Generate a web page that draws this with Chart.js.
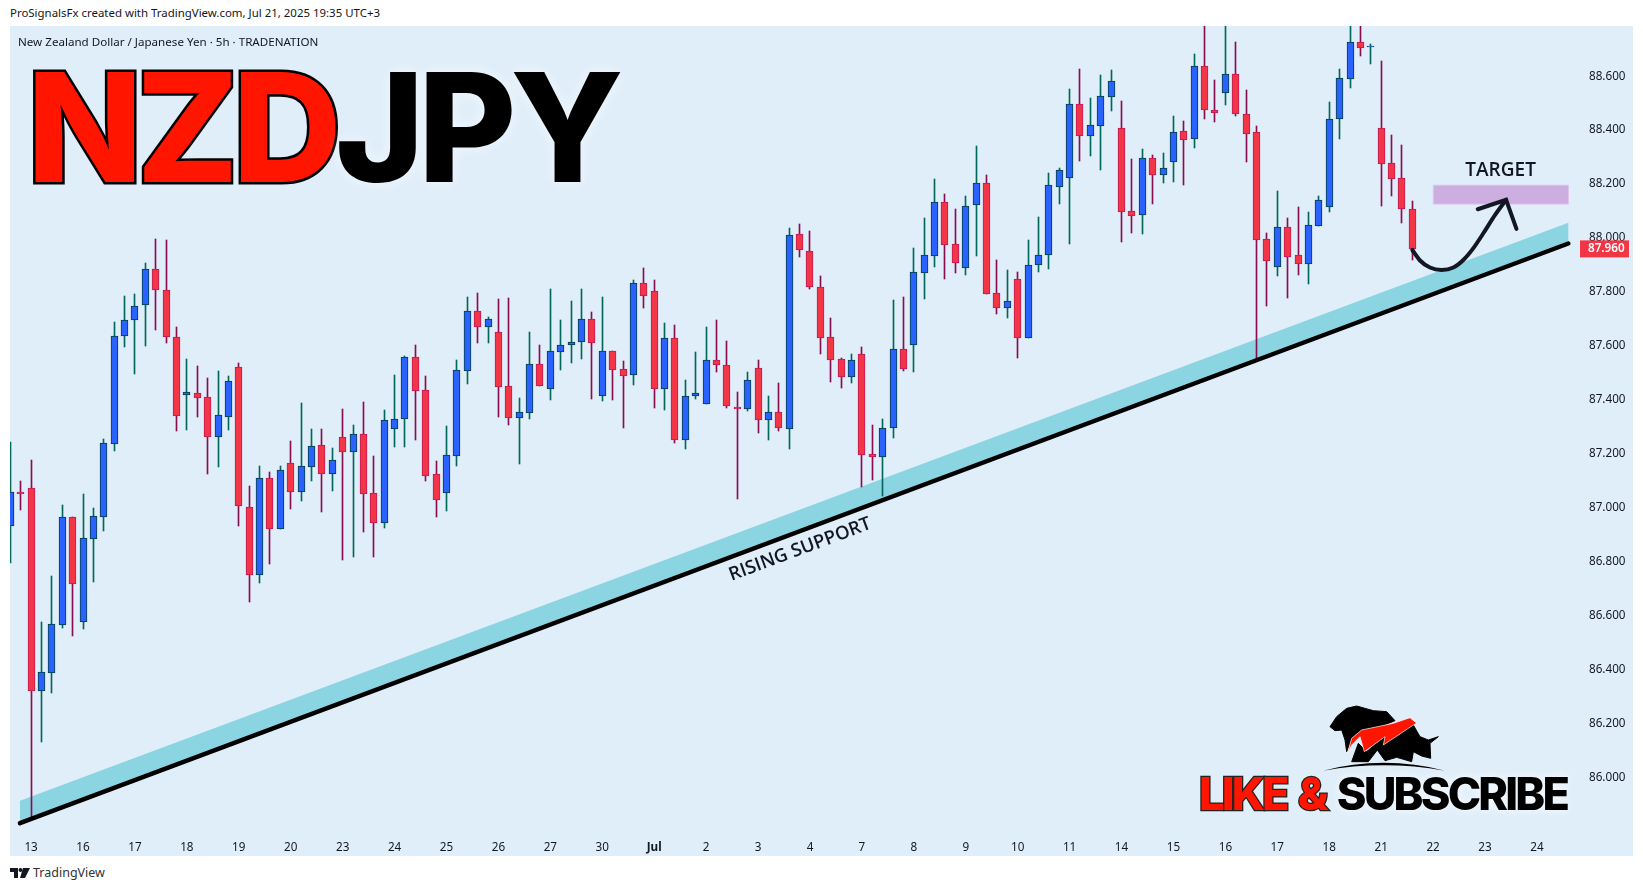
<!DOCTYPE html>
<html>
<head>
<meta charset="utf-8">
<title>NZDJPY</title>
<script src="https://cdn.jsdelivr.net/npm/chart.js@4/dist/chart.umd.min.js"></script>
<style>
    html, body { margin: 0; padding: 0; background: #fff; width: 1643px; height: 891px; overflow: hidden; }
    body { position: relative; font-family: "Noto Sans", sans-serif; color: #131722; }
    #wrap { position: absolute; left: 10px; top: 26px; width: 1623px; height: 830px; background: #e0eefa; }
    .txt { position: absolute; white-space: nowrap; }
    #header { left: 10px; top: 5px; font-size: 11.45px; line-height: 16px; }
    #subtitle { left: 18px; top: 34px; font-size: 11.6px; line-height: 16px; }
    #brand { left: 33px; top: 864px; font-size: 12.5px; line-height: 18px; color: #333; }
    #pair { left: 27px; top: 47px; font: 800 151px/160px Inter, Roboto, sans-serif; letter-spacing: -6.3px;
        color: #000; text-shadow: 0 0 14px rgba(255,255,255,.6); }
    #pair span { color: #ff1500; -webkit-text-stroke: 5px #000; paint-order: stroke fill; text-shadow: none; }
    #like { left: 1199px; top: 766px; font: 800 45px/56px Inter, Roboto, sans-serif; letter-spacing: -2.8px; word-spacing: 4px;
        color: #000; text-shadow: 0 0 10px rgba(255,255,255,.8); }
    #like span { color: #ff1500; -webkit-text-stroke: 2.5px #222; paint-order: stroke fill; text-shadow: none; }
    #logo { position: absolute; left: 1180px; top: 680px; width: 463px; height: 211px; }
    #tvlogo { position: absolute; left: 10px; top: 868px; width: 20px; height: 10px; }
</style>
</head>
<body>
<div class="txt" id="header">ProSignalsFx created with TradingView.com, Jul 21, 2025 19:35 UTC+3</div>
<div id="wrap"><canvas id="priceChart" width="1623" height="830"></canvas></div>
<div class="txt" id="subtitle">New Zealand Dollar / Japanese Yen · 5h · TRADENATION</div>
<div class="txt" id="pair"><span>NZD</span>JPY</div>
<svg id="logo" viewBox="0 0 1389 633">
    <path fill="#000" stroke="#000" stroke-width="3" stroke-linejoin="round" d="M450 140 L470 110 L500 85 L530 78 L580 92 L620 95 L645 122 L600 140 L545 150 L515 175 L500 215 L495 180 L485 150 L465 152 Z"/>
    <path fill="#000" stroke="#000" stroke-width="3" stroke-linejoin="round" d="M515 245 L535 190 L560 215 L610 170 L700 135 L720 170 L745 180 L775 170 L750 190 L752 235 L725 228 L700 215 L695 245 L650 232 L615 242 L592 210 L565 245 Z"/>
    <path fill="#ff1500" stroke="#fff" stroke-width="2" d="M503 220 L515 175 L545 150 L640 130 L690 113 L710 130 L700 135 L610 195 L615 170 L553 215 L540 170 L515 195 Z"/>
    <path fill="#000" d="M430 272 Q610 225 795 272 Q610 240 430 272 Z"/>
</svg>
<div class="txt" id="like"><span>LIKE &amp; </span>SUBSCRIBE</div>
<svg id="tvlogo" viewBox="0 0 20 10">
    <path fill="#131722" d="M0 0 H8 V10 H4 V4 H0 Z M13 0 H20 L15 10 H10 Z"/>
    <circle cx="10.5" cy="2" r="2" fill="#131722"/>
</svg>
<div class="txt" id="brand">TradingView</div>

<script>
// Candles (5h bars)
const opens = [
    86.932, 87.058, 87.073, 86.323, 86.390, 86.568, 86.965, 86.579, 86.886, 86.968,
    87.238, 87.636, 87.696, 87.751, 87.885, 87.807, 87.633, 87.418, 87.425, 87.410,
    87.264, 87.338, 87.521, 87.002, 86.753, 87.110, 86.923, 87.166, 87.060, 87.153,
    87.232, 87.127, 87.262, 87.209, 87.273, 87.054, 86.946, 87.294, 87.329, 87.558,
    87.436, 87.125, 87.057, 87.194, 87.509, 87.729, 87.672, 87.651, 87.451, 87.335,
    87.353, 87.532, 87.442, 87.579, 87.605, 87.616, 87.699, 87.416, 87.581, 87.514,
    87.494, 87.833, 87.803, 87.442, 87.629, 87.253, 87.416, 87.384, 87.547, 87.529,
    87.373, 87.368, 87.518, 87.327, 87.355, 87.294, 88.014, 87.951, 87.818, 87.632,
    87.551, 87.487, 87.570, 87.199, 87.187, 87.298, 87.588, 87.605, 87.872, 87.935,
    88.133, 87.977, 87.891, 88.121, 88.203, 87.796, 87.742, 87.848, 87.631, 87.902,
    87.939, 88.191, 88.221, 88.496, 88.380, 88.417, 88.524, 88.407, 88.099, 88.087,
    88.296, 88.235, 88.283, 88.396, 88.369, 88.637, 88.474, 88.539, 88.607, 88.459,
    88.392, 87.996, 87.894, 88.040, 87.936, 87.905, 88.046, 88.117, 88.440, 88.591,
    88.726, 88.711, 88.407, 88.277, 88.222, 88.107
];
const highs = [
    87.245, 87.100, 87.178, 86.576, 86.748, 87.011, 86.965, 87.052, 87.000, 87.256,
    87.689, 87.786, 87.793, 87.908, 87.997, 87.993, 87.671, 87.552, 87.526, 87.482,
    87.508, 87.489, 87.537, 87.082, 87.156, 87.133, 87.156, 87.248, 87.389, 87.293,
    87.293, 87.222, 87.367, 87.308, 87.393, 87.193, 87.363, 87.493, 87.563, 87.604,
    87.489, 87.174, 87.304, 87.549, 87.782, 87.797, 87.708, 87.775, 87.778, 87.408,
    87.652, 87.604, 87.812, 87.697, 87.767, 87.812, 87.726, 87.782, 87.581, 87.545,
    87.845, 87.888, 87.845, 87.686, 87.678, 87.474, 87.578, 87.671, 87.697, 87.619,
    87.430, 87.504, 87.549, 87.415, 87.463, 88.038, 88.053, 88.027, 87.860, 87.704,
    87.555, 87.571, 87.597, 87.308, 87.330, 87.771, 87.782, 87.964, 88.075, 88.219,
    88.164, 88.108, 88.156, 88.342, 88.234, 87.919, 87.882, 87.875, 87.993, 88.079,
    88.242, 88.260, 88.553, 88.626, 88.520, 88.605, 88.623, 88.508, 88.293, 88.330,
    88.308, 88.316, 88.453, 88.434, 88.683, 88.830, 88.586, 88.820, 88.727, 88.549,
    88.416, 88.018, 88.175, 88.075, 88.116, 88.097, 88.156, 88.505, 88.626, 88.800,
    88.790, 88.721, 88.657, 88.382, 88.345, 88.138
];
const lows = [
    86.796, 86.992, 85.851, 86.134, 86.316, 86.555, 86.527, 86.553, 86.727, 86.915,
    87.211, 87.598, 87.498, 87.602, 87.661, 87.613, 87.287, 87.290, 87.338, 87.126,
    87.152, 87.290, 86.934, 86.653, 86.723, 86.794, 86.923, 86.997, 87.026, 87.100,
    86.985, 87.063, 86.807, 86.818, 86.911, 86.818, 86.926, 87.226, 87.226, 87.252,
    87.101, 86.968, 86.989, 87.156, 87.460, 87.612, 87.612, 87.337, 87.308, 87.163,
    87.330, 87.453, 87.400, 87.511, 87.537, 87.552, 87.404, 87.397, 87.400, 87.296,
    87.456, 87.742, 87.371, 87.363, 87.242, 87.220, 87.404, 87.384, 87.504, 87.371,
    87.035, 87.361, 87.278, 87.250, 87.287, 87.220, 87.931, 87.813, 87.571, 87.467,
    87.445, 87.463, 87.078, 87.104, 87.044, 87.259, 87.509, 87.504, 87.775, 87.893,
    87.849, 87.871, 87.864, 87.934, 87.794, 87.719, 87.704, 87.556, 87.631, 87.875,
    87.886, 88.127, 87.980, 88.287, 88.306, 88.254, 88.472, 87.986, 88.020, 88.015,
    88.128, 88.204, 88.208, 88.197, 88.334, 88.441, 88.430, 88.493, 88.454, 88.283,
    87.553, 87.750, 87.861, 87.779, 87.863, 87.831, 88.043, 88.097, 88.369, 88.557,
    88.675, 88.646, 88.119, 88.156, 88.057, 87.919
];
const closes = [
    87.058, 87.050, 86.323, 86.391, 86.569, 86.965, 86.720, 86.888, 86.969, 87.240,
    87.636, 87.696, 87.747, 87.885, 87.807, 87.633, 87.342, 87.429, 87.409, 87.264,
    87.343, 87.469, 87.006, 86.753, 87.110, 86.923, 87.140, 87.060, 87.154, 87.229,
    87.127, 87.177, 87.209, 87.273, 87.053, 86.946, 87.325, 87.329, 87.558, 87.435,
    87.120, 87.031, 87.195, 87.510, 87.729, 87.672, 87.699, 87.450, 87.335, 87.355,
    87.532, 87.453, 87.581, 87.603, 87.614, 87.699, 87.613, 87.581, 87.513, 87.490,
    87.833, 87.787, 87.442, 87.629, 87.250, 87.414, 87.425, 87.547, 87.528, 87.376,
    87.368, 87.473, 87.327, 87.355, 87.298, 88.011, 87.957, 87.820, 87.631, 87.550,
    87.487, 87.547, 87.198, 87.187, 87.295, 87.588, 87.516, 87.873, 87.936, 88.133,
    87.976, 87.906, 88.118, 88.203, 87.794, 87.742, 87.766, 87.631, 87.899, 87.936,
    88.196, 88.252, 88.496, 88.380, 88.418, 88.526, 88.581, 88.098, 88.083, 88.296,
    88.232, 88.259, 88.392, 88.365, 88.637, 88.476, 88.465, 88.607, 88.461, 88.387,
    87.994, 87.917, 88.040, 87.931, 87.905, 88.048, 88.140, 88.440, 88.592, 88.726,
    88.706, 88.713, 88.276, 88.220, 88.106, 87.960
];

// Axis labels
const dayLabels = ['13', '16', '17', '18', '19', '20', '23', '24', '25', '26', '27', '30', 'Jul',
    '2', '3', '4', '7', '8', '9', '10', '11', '14', '15', '16', '17', '18', '21', '22', '23', '24'];
const priceTicks = [86.0, 86.2, 86.4, 86.6, 86.8, 87.0, 87.2, 87.4, 87.6, 87.8, 88.0, 88.2, 88.4, 88.6];
const lastPrice = 87.960;

// Drawings: [bar index, price]
const supportLine = [[0.93, 85.832], [150.02, 87.980]];
const supportBand = [[0.93, 85.832], [0.93, 85.915], [150.02, 88.057], [150.02, 87.980]];
const targetZone = [[137.02, 88.196], [150.04, 88.196], [150.04, 88.126], [137.02, 88.126], [137.02, 88.196]];
const pathArrow = [[135.0, 87.956], [135.74, 87.917], [136.70, 87.891], [137.83, 87.882], [138.95, 87.891],
    [139.91, 87.919], [140.88, 87.963], [141.84, 88.018], [142.97, 88.086], [144.03, 88.142]];
const arrowHead = [[141.30, 88.107], [144.03, 88.142], [145.03, 88.034]];

const toPoints = pts => pts.map(p => ({ x: p[0], y: p[1] }));
const isUp = i => closes[i] >= opens[i];

// TradingView snaps candles to whole pixels, do the same so wicks stay crisp
const snapBars = {
    id: 'snapBars',
    afterDatasetsUpdate(chart) {
        chart.data.datasets.forEach((ds, d) => {
            if (ds.type !== 'bar') return;
            chart.getDatasetMeta(d).data.forEach(bar => {
                bar.x = Math.floor(bar.x) + 0.5;
                bar.y = Math.round(bar.y);
                bar.base = Math.round(bar.base);
                if (bar.base === bar.y) bar.base = bar.y + 1;
            });
        });
    }
};

// Text drawn on the chart plus the last price tag
const chartNotes = {
    id: 'chartNotes',
    afterDraw(chart) {
        const { ctx, scales } = chart;
        const tagY = scales.y.getPixelForValue(lastPrice);

        ctx.save();
        ctx.fillStyle = '#f23645';
        ctx.fillRect(chart.chartArea.right + 1, tagY - 8.5, 49, 17);
        ctx.fillStyle = '#fff';
        ctx.font = '600 11.7px "Noto Sans"';
        ctx.textBaseline = 'middle';
        ctx.textAlign = 'left';
        ctx.fillText(lastPrice.toFixed(3), chart.chartArea.right + 9, tagY);

        ctx.fillStyle = '#131722';
        ctx.font = '600 19px "Open Sans"';
        ctx.textAlign = 'center';
        ctx.fillText('TARGET', scales.x.getPixelForValue(143.5), scales.y.getPixelForValue(88.25));

        ctx.translate(scales.x.getPixelForValue(76.05), scales.y.getPixelForValue(86.846));
        ctx.rotate(-20.5 * Math.PI / 180);
        ctx.font = '600 18.6px "Open Sans"';
        ctx.fillText('RISING SUPPORT', 0, 0);
        ctx.restore();
    }
};

const candleIndex = opens.map((_, i) => i);

new Chart(document.getElementById('priceChart').getContext('2d'), {
    type: 'bar',
    data: {
        datasets: [
            {
                type: 'line',
                data: toPoints(supportBand),
                order: 6,
                fill: 'shape',
                backgroundColor: '#8bd5e2',
                borderWidth: 0,
                pointRadius: 0
            },
            {
                type: 'line',
                data: toPoints(targetZone),
                order: 5,
                fill: 'shape',
                backgroundColor: '#ccaee0',
                borderColor: '#e1c3ee',
                borderWidth: 1,
                pointRadius: 0
            },
            {
                type: 'bar',
                data: candleIndex.map(i => ({ x: i, y: [lows[i], highs[i]] })),
                order: 4,
                barThickness: 1,
                grouped: false,
                backgroundColor: ctx => isUp(ctx.dataIndex) ? '#00695c' : '#880e4f'
            },
            {
                type: 'bar',
                data: candleIndex.map(i => ({ x: i, y: [opens[i], closes[i]] })),
                order: 3,
                barThickness: 7,
                grouped: false,
                borderWidth: 1,
                borderSkipped: false,
                backgroundColor: ctx => isUp(ctx.dataIndex) ? '#2962ff' : '#f23645',
                borderColor: ctx => isUp(ctx.dataIndex) ? '#004040' : '#c2185b'
            },
            {
                type: 'line',
                data: toPoints(supportLine),
                order: 2,
                borderColor: '#000',
                borderWidth: 4.5,
                borderCapStyle: 'round',
                pointRadius: 0
            },
            {
                type: 'line',
                data: toPoints(pathArrow),
                order: 1,
                borderColor: '#131722',
                borderWidth: 4,
                borderCapStyle: 'round',
                cubicInterpolationMode: 'monotone',
                pointRadius: 0
            },
            {
                type: 'line',
                data: toPoints(arrowHead),
                order: 1,
                borderColor: '#131722',
                borderWidth: 4,
                borderCapStyle: 'round',
                pointRadius: 0
            }
        ]
    },
    options: {
        responsive: false,
        animation: false,
        layout: { padding: 0 },
        plugins: {
            legend: { display: false },
            tooltip: { enabled: false }
        },
        scales: {
            x: {
                type: 'linear',
                offset: false,
                min: -0.03,
                max: 151.05,
                grid: { display: false },
                border: { display: false },
                afterBuildTicks: axis => {
                    axis.ticks = dayLabels.map((_, i) => ({ value: 2 + i * 5 }));
                },
                afterFit: axis => {
                    axis.height = 28;
                    axis.paddingLeft = 0;
                    axis.paddingRight = 0;
                },
                ticks: {
                    autoSkip: false,
                    maxRotation: 0,
                    padding: 5,
                    color: '#131722',
                    font: ctx => ({
                        family: '"Noto Sans"',
                        size: 11.7,
                        weight: ctx.tick && ctx.tick.label === 'Jul' ? '700' : '400'
                    }),
                    callback: value => dayLabels[Math.round((value - 2) / 5)]
                }
            },
            y: {
                position: 'right',
                min: 85.814,
                max: 88.786,
                grid: { display: false },
                border: { display: false },
                afterBuildTicks: axis => {
                    axis.ticks = priceTicks.map(v => ({ value: v }));
                },
                afterFit: axis => {
                    axis.width = 54;
                    axis.paddingTop = 0;
                    axis.paddingBottom = 0;
                },
                ticks: {
                    padding: 2,
                    color: '#131722',
                    font: { family: '"Noto Sans"', size: 11.7 },
                    callback: value => value.toFixed(3)
                }
            }
        }
    },
    plugins: [snapBars, chartNotes]
});
</script>
</body>
</html>
